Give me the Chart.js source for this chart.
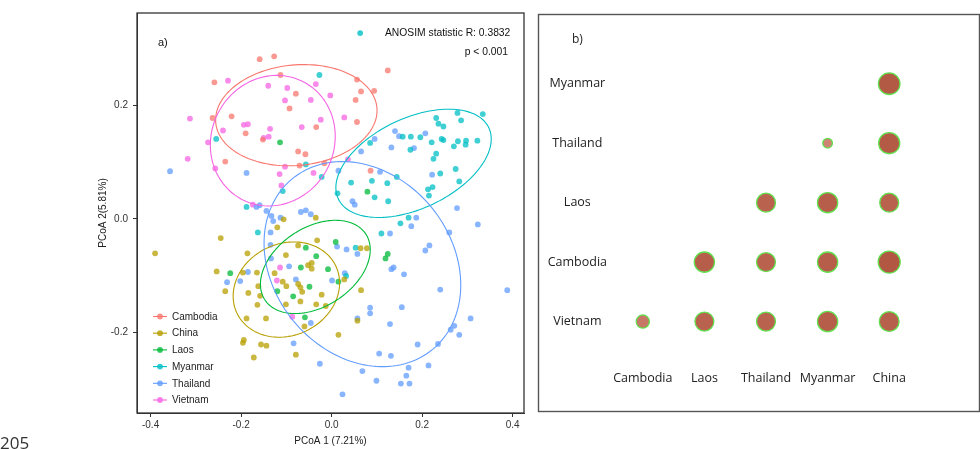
<!DOCTYPE html>
<html>
<head>
<meta charset="utf-8">
<script src="https://cdn.jsdelivr.net/npm/chart.js@4.4.1/dist/chart.umd.min.js"></script>
<style>
  body { margin: 0; background: #fff; width: 980px; height: 449px; overflow: hidden; position: relative; }
  #pcoa { position: absolute; left: 0; top: 0; }
  #pairs { position: absolute; left: 536px; top: 0; }
  #pageNo { position: absolute; left: 0; top: 431px; font: 17px 'Open Sans', sans-serif; color: #333; }
</style>
</head>
<body>
<canvas id="pcoa" width="536" height="449"></canvas>
<canvas id="pairs" width="444" height="449"></canvas>
<div id="pageNo">205</div>
<script>
/* ---------- a) PCoA data ---------- */
const groups = ['Cambodia', 'China', 'Laos', 'Myanmar', 'Thailand', 'Vietnam'];
const groupColours = ['#F8766D', '#B79F00', '#00BA38', '#00BFC4', '#619CFF', '#F564E3'];

const cambodiaPts = [[-0.159,0.282],[-0.127,0.287],[0.124,0.262],[-0.259,0.241],[-0.113,0.254],[0.056,0.246],
  [0.065,0.225],[0.094,0.226],[0.053,0.210],[-0.079,0.221],[-0.093,0.195],[-0.221,0.181],[-0.263,0.178],
  [0.056,0.171],[-0.034,0.162],[-0.190,0.151],[-0.152,0.140],[-0.074,0.119],[-0.058,0.114],[-0.235,0.101],
  [-0.071,0.094],[0.086,0.085],[-0.016,0.098]];

const chinaPts = [[-0.245,-0.034],[-0.390,-0.061],[-0.186,-0.061],[-0.254,-0.093],[-0.196,-0.095],[-0.165,-0.095],
  [-0.235,-0.128],[-0.184,-0.131],[-0.162,-0.119],[-0.158,-0.136],[-0.164,-0.152],[-0.188,-0.176],[-0.145,-0.176],
  [-0.194,-0.214],[-0.196,-0.219],[-0.156,-0.222],[-0.144,-0.224],[-0.172,-0.245],[-0.101,-0.064],[-0.074,-0.047],
  [-0.032,-0.038],[-0.126,-0.096],[-0.108,-0.111],[-0.100,-0.119],[-0.052,-0.082],[-0.044,-0.078],[-0.044,-0.088],
  [-0.074,-0.115],[-0.069,-0.121],[-0.065,-0.129],[-0.022,-0.134],[-0.034,-0.151],[-0.069,-0.146],[-0.101,-0.151],
  [-0.060,-0.190],[-0.079,-0.240],[0.015,-0.205],[-0.106,-0.001],[-0.120,-0.015],[-0.013,-0.154],[-0.035,0.002],
  [0.028,-0.107],[0.065,-0.126],[0.064,-0.052],[0.078,-0.052],[0.057,-0.180]];

const laosPts = [[-0.114,0.135],[0.079,0.048],[0.009,-0.041],[-0.057,-0.051],[-0.034,-0.066],[-0.068,-0.086],
  [-0.008,-0.089],[0.015,-0.111],[-0.049,-0.120],[-0.085,-0.137],[-0.120,-0.128],[-0.059,-0.174],[0.124,-0.062],
  [0.119,-0.070],[-0.224,-0.096]];

const myanmarPts = [[0.278,0.187],[0.334,0.185],[0.231,0.178],[0.286,0.174],[0.236,0.168],[0.247,0.163],
  [0.157,0.145],[0.175,0.145],[0.196,0.144],[0.243,0.141],[0.247,0.139],[0.221,0.135],[0.279,0.137],[0.297,0.138],
  [0.296,0.131],[0.322,0.138],[0.270,0.128],[0.174,0.122],[0.231,0.115],[0.225,0.106],[0.274,0.088],[0.282,0.066],
  [0.240,0.080],[0.223,0.056],[0.213,0.052],[0.215,0.041],[0.085,0.134],[0.144,0.074],[0.043,0.064],[0.089,0.067],
  [0.123,0.063],[0.013,0.045],[0.095,0.038],[0.125,0.031],[0.152,-0.008],[0.170,0.002],[0.110,-0.026],
  [0.053,-0.051],[0.032,-0.101],[-0.163,-0.024],[-0.255,0.141],[-0.188,0.021],[-0.027,0.254],[-0.057,0.096],
  [-0.108,0.049],[-0.022,0.074]];

const thailandPts = [[-0.357,0.084],[-0.188,0.081],[-0.166,0.021],[-0.159,0.024],[-0.144,0.014],[-0.133,0.005],
  [-0.129,-0.004],[-0.113,0.002],[-0.068,0.012],[-0.057,0.015],[-0.046,0.008],[-0.135,-0.024],[-0.135,-0.046],
  [-0.134,-0.070],[-0.094,-0.084],[-0.079,-0.107],[-0.185,-0.094],[-0.202,-0.110],[-0.231,-0.112],[-0.046,-0.184],
  [-0.084,-0.220],[-0.026,-0.256],[0.012,-0.049],[0.001,-0.109],[0.033,-0.054],[0.057,-0.062],[0.029,-0.096],
  [0.024,-0.310],[0.068,-0.269],[0.105,-0.238],[0.131,-0.242],[0.099,-0.286],[0.085,-0.157],[0.085,-0.167],
  [0.057,-0.176],[0.129,-0.186],[0.129,-0.026],[0.132,-0.089],[0.137,-0.086],[0.046,0.031],[0.051,0.025],
  [0.187,0.002],[0.176,-0.013],[0.277,0.019],[0.323,-0.010],[0.260,-0.024],[0.216,-0.047],[0.207,-0.056],
  [0.160,-0.098],[0.240,-0.125],[0.388,-0.126],[0.155,-0.156],[0.307,-0.176],[0.271,-0.189],[0.263,-0.196],
  [0.282,-0.205],[0.190,-0.222],[0.235,-0.221],[0.170,-0.263],[0.214,-0.259],[0.165,-0.277],[0.153,-0.291],
  [0.172,-0.291],[0.140,0.155],[0.207,0.151],[0.149,0.146],[0.095,0.141],[0.132,0.126],[0.182,0.125],
  [0.065,0.119],[0.222,0.078],[0.107,0.083],[0.015,0.085]];

const vietnamPts = [[-0.229,0.244],[-0.140,0.235],[-0.098,0.231],[-0.035,0.238],[-0.103,0.209],[-0.046,0.210],
  [-0.003,0.218],[-0.194,0.166],[-0.185,0.167],[-0.136,0.159],[-0.066,0.162],[-0.024,0.175],[0.028,0.179],
  [-0.240,0.156],[-0.273,0.135],[-0.139,0.145],[-0.150,0.143],[-0.318,0.106],[-0.257,0.089],[-0.103,0.092],
  [-0.115,0.079],[-0.040,0.081],[0.036,0.105],[-0.111,0.059],[-0.174,0.025],[-0.313,0.177],[-0.114,-0.086],
  [-0.121,-0.109],[-0.087,-0.173]];

const groupPoints = [cambodiaPts, chinaPts, laosPts, myanmarPts, thailandPts, vietnamPts];

// confidence ellipses: centre and two conjugate semi-axes, in PCoA units
const ellipseCentre = [[-0.078,0.183],[-0.100,-0.125],[-0.036,-0.085],[0.181,0.098],[0.068,-0.080],[-0.130,0.138]];
const ellipseAxisA  = [[0.178,0.0135],[0.1093,0.0415],[0.1116,0.058],[0.1663,0.0628],[0.1551,-0.1506],[0.0693,0.1033]];
const ellipseAxisB  = [[0.0105,-0.0884],[0.0433,-0.0732],[0.0475,-0.0585],[0.0425,-0.0721],[-0.1522,-0.1006],[0.1193,-0.0512]];

const anosimMarker = [0.063, 0.328];
const anosimText = 'ANOSIM statistic R: 0.3832';
const pText = 'p < 0.001';

/* ---------- b) pairwise data ---------- */
const colLabels = ['Cambodia', 'Laos', 'Thailand', 'Myanmar', 'China'];
const rowLabels = ['Myanmar', 'Thailand', 'Laos', 'Cambodia', 'Vietnam'];
const pairRow = ['Myanmar','Thailand','Thailand','Laos','Laos','Laos','Cambodia','Cambodia','Cambodia','Cambodia',
  'Vietnam','Vietnam','Vietnam','Vietnam','Vietnam'];
const pairCol = ['China','Myanmar','China','Thailand','Myanmar','China','Laos','Thailand','Myanmar','China',
  'Cambodia','Laos','Thailand','Myanmar','China'];
const pairValue = [0.49,0.22,0.48,0.43,0.46,0.43,0.46,0.43,0.46,0.50,0.30,0.43,0.43,0.46,0.45];

const axisFont = { family: "'Liberation Sans', Arial, sans-serif", size: 10 };

function alpha(hex, a) {
  const n = parseInt(hex.slice(1), 16);
  return `rgba(${n >> 16}, ${(n >> 8) & 255}, ${n & 255}, ${a})`;
}

// full box round the plot area
const framePlugin = {
  id: 'frame',
  afterDraw(chart, args, opts) {
    const { ctx, chartArea: a } = chart;
    ctx.save();
    ctx.strokeStyle = opts.color || '#333';
    ctx.lineWidth = opts.width || 1.2;
    const r = opts.rect || [a.left, a.top, a.right - a.left, a.bottom - a.top];
    ctx.strokeRect(r[0], r[1], r[2], r[3]);
    ctx.restore();
  }
};

const ellipsePlugin = {
  id: 'ellipses',
  afterDatasetsDraw(chart) {
    const { ctx, scales: { x, y } } = chart;
    ctx.save();
    ctx.lineWidth = 1.1;
    groups.forEach((g, i) => {
      const [cx, cy] = ellipseCentre[i];
      const [ax, ay] = ellipseAxisA[i];
      const [bx, by] = ellipseAxisB[i];
      ctx.strokeStyle = groupColours[i];
      ctx.beginPath();
      for (let k = 0; k <= 144; k++) {
        const t = k / 144 * Math.PI * 2;
        const px = x.getPixelForValue(cx + ax * Math.cos(t) + bx * Math.sin(t));
        const py = y.getPixelForValue(cy + ay * Math.cos(t) + by * Math.sin(t));
        if (k === 0) ctx.moveTo(px, py); else ctx.lineTo(px, py);
      }
      ctx.stroke();
    });
    ctx.restore();
  }
};

// panel label, ANOSIM note and the in-plot legend
const notesPlugin = {
  id: 'notes',
  afterDraw(chart) {
    const { ctx, scales: { x, y }, chartArea: a } = chart;
    ctx.save();
    ctx.fillStyle = '#111';
    ctx.font = "11px 'Liberation Sans', Arial, sans-serif";
    ctx.textBaseline = 'middle';
    ctx.fillText('a)', a.left + 21, 43);

    ctx.font = "10.3px 'Liberation Sans', Arial, sans-serif";
    ctx.fillText(anosimText, a.left + 248, 33);
    ctx.textAlign = 'right';
    ctx.fillText(pText, a.right - 16, 52);

    ctx.fillStyle = alpha(groupColours[3], 0.8);
    ctx.beginPath();
    ctx.arc(x.getPixelForValue(anosimMarker[0]), y.getPixelForValue(anosimMarker[1]), 2.9, 0, Math.PI * 2);
    ctx.fill();

    ctx.textAlign = 'left';
    ctx.font = "10px 'Liberation Sans', Arial, sans-serif";
    groups.forEach((g, i) => {
      const ly = 316.5 + i * 16.7;
      ctx.strokeStyle = groupColours[i];
      ctx.lineWidth = 1.1;
      ctx.beginPath();
      ctx.moveTo(a.left + 16, ly);
      ctx.lineTo(a.left + 30, ly);
      ctx.stroke();
      ctx.fillStyle = alpha(groupColours[i], 0.8);
      ctx.beginPath();
      ctx.arc(a.left + 23, ly, 2.9, 0, Math.PI * 2);
      ctx.fill();
      ctx.fillStyle = '#222';
      ctx.fillText(g, a.left + 35, ly + 0.5);
    });
    ctx.restore();
  }
};

const tickLabel = v => (Math.abs(v) < 1e-9 ? '0.0' : v.toFixed(1));

new Chart(document.getElementById('pcoa'), {
  type: 'scatter',
  data: {
    datasets: groups.map((g, i) => ({
      label: g,
      data: groupPoints[i].map(p => ({ x: p[0], y: p[1] })),
      backgroundColor: alpha(groupColours[i], 0.75),
      borderWidth: 0,
      pointRadius: 2.9
    }))
  },
  options: {
    responsive: false,
    animation: false,
    layout: { padding: { left: 97, top: 13, right: 12, bottom: 0 } },
    scales: {
      x: {
        type: 'linear', min: -0.43, max: 0.425,
        afterFit(s) { s.height = 36; },
        grid: { drawOnChartArea: false, tickLength: 4, color: '#333' },
        border: { color: '#333' },
        ticks: { stepSize: 0.2, includeBounds: false, padding: 2, color: '#333', font: axisFont, callback: tickLabel },
        title: { display: true, text: 'PCoA 1 (7.21%)', color: '#222', font: axisFont, padding: { top: 0, bottom: 2 } }
      },
      y: {
        type: 'linear', min: -0.343, max: 0.3635,
        afterFit(s) { s.width = 40; },
        grid: { drawOnChartArea: false, tickLength: 4, color: '#333' },
        border: { color: '#333' },
        ticks: { stepSize: 0.2, includeBounds: false, padding: 5, color: '#333', font: axisFont, callback: tickLabel },
        title: { display: true, text: 'PCoA 2(5.81%)', color: '#222', font: axisFont, padding: 0 }
      }
    },
    plugins: { legend: { display: false }, tooltip: { enabled: false }, frame: { color: '#333', width: 1.3 } }
  },
  plugins: [ellipsePlugin, framePlugin, notesPlugin]
});

/* ---------- b) bubble grid ---------- */
function bubbleFill(v) {
  // lighter for weaker pairs, darker brick red for stronger ones
  const t = Math.max(0, Math.min(1, (v - 0.2) / 0.3));
  const lo = [208, 134, 118], hi = [178, 88, 66];
  const c = lo.map((l, k) => Math.round(l + (hi[k] - l) * t));
  return `rgb(${c[0]}, ${c[1]}, ${c[2]})`;
}

const bLabelPlugin = {
  id: 'bLabel',
  afterDraw(chart) {
    const { ctx } = chart;
    ctx.save();
    ctx.fillStyle = '#222';
    ctx.font = "12px 'Open Sans', sans-serif";
    ctx.textBaseline = 'middle';
    ctx.fillText('b)', 36, 40);
    ctx.restore();
  }
};

const labelFont = { family: "'Open Sans', sans-serif", size: 12.5 };

new Chart(document.getElementById('pairs'), {
  type: 'bubble',
  data: {
    datasets: [{
      data: pairValue.map((v, i) => ({ x: pairCol[i], y: pairRow[i], r: v * 22 })),
      backgroundColor: pairValue.map(bubbleFill),
      borderColor: '#62e04f',
      borderWidth: 1.3
    }]
  },
  options: {
    responsive: false,
    animation: false,
    layout: { padding: { left: 0, top: 54, right: 60, bottom: 0 } },
    scales: {
      x: {
        type: 'category', labels: colLabels, offset: true,
        afterFit(s) { s.height = 97.7; },
        grid: { display: false, drawTicks: false },
        border: { display: false },
        ticks: { padding: 20, color: '#222', font: labelFont, maxRotation: 0, autoSkip: false }
      },
      y: {
        type: 'category', labels: rowLabels, offset: true,
        afterFit(s) { s.width = 76; },
        grid: { display: false, drawTicks: false },
        border: { display: false },
        ticks: { crossAlign: 'center', padding: 5, color: '#222', font: labelFont, autoSkip: false }
      }
    },
    plugins: {
      legend: { display: false },
      tooltip: { enabled: false },
      frame: { color: '#555', width: 1.4, rect: [2.5, 14.5, 441, 397] }
    }
  },
  plugins: [framePlugin, bLabelPlugin]
});
</script>
</body>
</html>
